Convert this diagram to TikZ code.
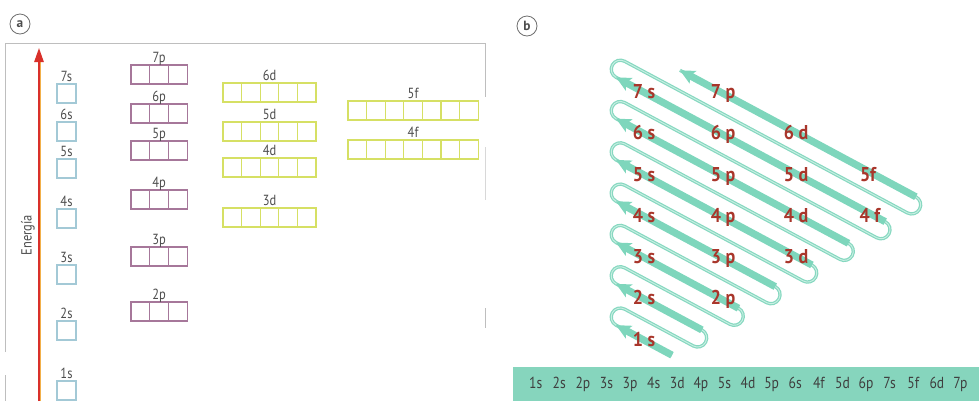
\documentclass[tikz,border=0pt]{standalone}
\usepackage{fontspec}
\setmainfont{PT Sans}
\newfontfamily\narrowfont[FakeStretch=0.85]{PT Sans}
\newfontfamily\blabfont[FakeStretch=0.9]{PT Sans}
\usetikzlibrary{arrows.meta}
\definecolor{framegray}{HTML}{BEBEBE}
\definecolor{sblue}{HTML}{A3C9D6}
\definecolor{pmauve}{HTML}{A6779A}
\definecolor{dyellow}{HTML}{D6E064}
\definecolor{labgray}{HTML}{4D4D4D}
\definecolor{labred}{HTML}{A9362B}
\definecolor{mint}{HTML}{7ED6BC}
\definecolor{mintthin}{HTML}{86D8C0}
\definecolor{mintpale}{HTML}{C9EFE3}
\definecolor{barmint}{HTML}{86D5BD}
\definecolor{bargray}{HTML}{3F3F3F}
\definecolor{engred}{HTML}{D9302A}
\definecolor{engorange}{HTML}{F2B04A}
\definecolor{circgray}{HTML}{6E6E6E}
\newcommand{\orbital}[7]{%
  \draw[#6] (#2,#3) rectangle ++({#4*#5},19);
  \ifnum#4>1
    \foreach \i in {1,...,\numexpr#4-1\relax}{\draw[#6] ({#2+\i*#5},#3) -- ++(0,19);}
  \fi
  \node[olab] (#1) at ({#2+#4*#5/2},{#3-3}) {#7};
}
\newcommand{\serpentine}{(36.3,0) -- (-27.2,0) arc(270:90:9.1) -- (50.7,18.2) arc(-90:90:9.1)
  -- (-46.75,36.4) arc(270:90:9.1) -- (72.7,54.6) arc(-90:90:9.1)
  -- (-66.3,72.8) arc(270:90:9.1) -- (94.9,91) arc(-90:90:9.1)
  -- (-85.8,109.2) arc(270:90:9.1) -- (117,127.4) arc(-90:90:9.1)
  -- (-105.3,145.6) arc(270:90:9.1) -- (139,163.8) arc(-90:90:9.1)
  -- (-124.8,182) arc(270:90:9.1) -- (161.1,200.2) arc(-90:90:9.1)
  -- (-144.3,218.4) arc(270:90:9.1) -- (176.4,236.6) arc(-90:90:9.1)
  -- (-91.3,254.8)}
\begin{document}
\begin{tikzpicture}[x=0.75pt,y=-0.75pt,
  framel/.style={draw=framegray, line width=0.6pt},
  sorb/.style={draw=sblue, line width=0.8pt},
  porb/.style={draw=pmauve, line width=0.8pt},
  dorb/.style={draw=dyellow, line width=0.8pt},
  olab/.style={font=\narrowfont\fontsize{11}{13}\selectfont, text=labgray, inner sep=0pt, anchor=base},
  blab/.style={font=\blabfont\bfseries\fontsize{15}{17}\selectfont, text=labred, inner sep=0pt, anchor=base},
  barlab/.style={font=\narrowfont\fontsize{12}{14}\selectfont, text=bargray, inner sep=0pt, anchor=base},
  circlab/.style={circle, draw=circgray, line width=0.6pt, minimum size=15pt, inner sep=0pt, font=\bfseries\fontsize{10}{12}\selectfont, text=labgray},
  thinpath/.style={draw=mintthin, line width=2.5pt},
  thincore/.style={draw=mintpale, line width=0.7pt},
  band/.style={draw=mint, line width=5.4pt, -{Stealth[length=11pt,width=10.5pt,inset=2.5pt]}},
]
\useasboundingbox (0,0) rectangle (979,401);

% ---------- panel a ----------
\node[circlab] (pa) at (20,24) {a};
\draw[framel] (5,352) -- (5,43) -- (485,43) -- (485,97);
\draw[framel] (5,375) -- (5,401);
\draw[framel, draw=framegray!60] (485,147) -- (485,200);
\draw[framel] (485,308) -- (485,328);

\coordinate (ebot) at (39,401);
\coordinate (etop) at (39,48);
\draw[engorange, line width=0.7pt] (40.3,401) -- (40.3,62);
\draw[engred, line width=1.3pt, -{Triangle[length=10.5pt,width=7pt]}] (ebot) -- (etop);
\node[font=\narrowfont\fontsize{11}{13}\selectfont, text=labgray, rotate=90] (energia) at (28,235) {Energía};

\orbital{s7}{57}{84}{1}{19}{sorb}{7s}
\orbital{s6}{57}{122}{1}{19}{sorb}{6s}
\orbital{s5}{57}{159}{1}{19}{sorb}{5s}
\orbital{s4}{57}{209}{1}{19}{sorb}{4s}
\orbital{s3}{57}{265}{1}{19}{sorb}{3s}
\orbital{s2}{57}{321}{1}{19}{sorb}{2s}
\orbital{s1}{57}{381}{1}{19}{sorb}{1s}

\orbital{p7}{131}{65}{3}{18.7}{porb}{7p}
\orbital{p6}{131}{104}{3}{18.7}{porb}{6p}
\orbital{p5}{131}{141}{3}{18.7}{porb}{5p}
\orbital{p4}{131}{190}{3}{18.7}{porb}{4p}
\orbital{p3}{131}{247}{3}{18.7}{porb}{3p}
\orbital{p2}{131}{302}{3}{18.7}{porb}{2p}

\orbital{d6}{223}{83}{5}{18.6}{dorb}{6d}
\orbital{d5}{223}{122}{5}{18.6}{dorb}{5d}
\orbital{d4}{223}{158}{5}{18.6}{dorb}{4d}
\orbital{d3}{223}{208}{5}{18.6}{dorb}{3d}

\orbital{f5}{348}{101}{7}{18.6}{dorb}{5f}
\orbital{f4}{348}{140}{7}{18.6}{dorb}{4f}

% ---------- panel b ----------
\node[circlab] (pb) at (527,26) {b};

\begin{scope}[shift={(640,338)}, x={(0.661pt,-0.35445pt)}, y={(0.35445pt,0.660975pt)}]
 \draw[thinpath] \serpentine;
 \draw[thincore] \serpentine;
 \draw[band] (36.3,0) -- (-27.2,0);
 \draw[band] (50.7,36.4) -- (-46.75,36.4);
 \draw[band] (72.7,72.8) -- (-66.3,72.8);
 \draw[band] (94.9,109.2) -- (-85.8,109.2);
 \draw[band] (117,145.6) -- (-105.3,145.6);
 \draw[band] (139,182) -- (-124.8,182);
 \draw[band] (161.1,218.4) -- (-144.3,218.4);
 \draw[band] (176.4,254.8) -- (-91.3,254.8);
\end{scope}

\node[blab] (l7s) at (644,98) {7 s};
\node[blab] (l7p) at (723,98) {7 p};
\node[blab] (l6s) at (644,139.3) {6 s};
\node[blab] (l6p) at (723,139.3) {6 p};
\node[blab] (l6d) at (796,139.3) {6 d};
\node[blab] (l5s) at (644,181) {5 s};
\node[blab] (l5p) at (723,181) {5 p};
\node[blab] (l5d) at (796,181) {5 d};
\node[blab] (l5f) at (868,181) {5f};
\node[blab] (l4s) at (644,222.5) {4 s};
\node[blab] (l4p) at (723,222.5) {4 p};
\node[blab] (l4d) at (796,222.5) {4 d};
\node[blab] (l4f) at (870,222.5) {4 f};
\node[blab] (l3s) at (644,263.5) {3 s};
\node[blab] (l3p) at (723,263.5) {3 p};
\node[blab] (l3d) at (796,263.5) {3 d};
\node[blab] (l2s) at (644,304.8) {2 s};
\node[blab] (l2p) at (723,304.8) {2 p};
\node[blab] (l1s) at (644,346) {1 s};

\fill[barmint] (513,367) rectangle (979,401);
\foreach \t [count=\n from 0] in {1s,2s,2p,3s,3p,4s,3d,4p,5s,4d,5p,6s,4f,5d,6p,7s,5f,6d,7p}{
  \node[barlab] (bar\n) at ({535.7+23.6*\n},388.5) {\t};
}
\end{tikzpicture}
\end{document}
